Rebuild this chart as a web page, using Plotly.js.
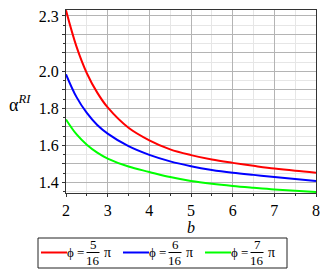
<!DOCTYPE html>
<html>
<head>
<meta charset="utf-8">
<script src="https://cdn.plot.ly/plotly-3.0.1.min.js"></script>
<style>html,body{margin:0;padding:0;background:#fff;}#chart{width:324px;height:275px;}</style>
</head>
<body>
<div id="chart"></div>
<script>
// ---- data ----
const b = [2, 2.25, 2.5, 2.75, 3, 3.5, 4, 4.5, 5, 5.5, 6, 6.5, 7, 7.5, 8];
const alphaPhi5 = [2.33, 2.135, 1.99, 1.885, 1.805, 1.695, 1.627, 1.578, 1.547, 1.523, 1.505, 1.489, 1.474, 1.462, 1.452];
const alphaPhi6 = [1.984, 1.862, 1.775, 1.71, 1.663, 1.595, 1.548, 1.513, 1.487, 1.467, 1.452, 1.44, 1.429, 1.418, 1.407];
const alphaPhi7 = [1.74, 1.66, 1.603, 1.56, 1.528, 1.485, 1.456, 1.428, 1.407, 1.392, 1.38, 1.37, 1.361, 1.354, 1.348];
const numerators = ["5", "6", "7"];
const denominator = "16";
const seriesColors = ["#ff0000", "#0000ff", "#00ff00"];
const yTickVals = [1.4, 1.6, 1.8, 2.0, 2.3];
const yTickText = ["1.4", "1.6", "1.8", "2.0", "2.3"];
const xTickVals = [2, 3, 4, 5, 6, 7, 8];
const yRange = [1.342, 2.332];

const series = [alphaPhi5, alphaPhi6, alphaPhi7];
const FONT = "Times New Roman, Liberation Serif, Tinos, DejaVu Serif, serif";

const traces = series.map((ys, i) => ({
  x: b, y: ys, type: "scatter", mode: "lines",
  line: {color: seriesColors[i], width: 2, shape: "spline", smoothing: 1.0},
  name: "ϕ = " + numerators[i] + "/" + denominator + " π",
  showlegend: false, hoverinfo: "skip"
}));
// empty trace so the label axis is drawn
traces.push({x: [], y: [], yaxis: "y2", type: "scatter", mode: "lines", showlegend: false, hoverinfo: "skip"});

// plot area in px
const L = 66, R = 316, T = 10, B = 193, W = 324, H = 275;
const px = v => (v - L) / (R - L);
const py = v => (B - v) / (B - T);

const shapes = [];
const annotations = [];
// y-axis label
annotations.push({xref: "paper", yref: "paper", x: px(20), y: py(103), text: "α<sup><i>RI</i></sup>",
  showarrow: false, font: {family: FONT, size: 18, color: "#000"}, xanchor: "center", yanchor: "middle"});

// custom legend
shapes.push({type: "rect", xref: "paper", yref: "paper", x0: px(38), x1: px(287), y0: py(238), y1: py(268),
  line: {color: "#222", width: 1}, fillcolor: "rgba(0,0,0,0)"});
const lineStarts = [41, 123, 205];
for (let i = 0; i < 3; i++) {
  const x0 = lineStarts[i];
  shapes.push({type: "line", xref: "paper", yref: "paper", x0: px(x0), x1: px(x0 + 26), y0: py(252.5), y1: py(252.5),
    line: {color: seriesColors[i], width: 2}});
  annotations.push({xref: "paper", yref: "paper", x: px(x0 + 44), y: py(253), text: "ϕ =", showarrow: false,
    font: {family: FONT, size: 13, color: "#000"}, xanchor: "right", yanchor: "middle", borderpad: 0});
  const fx = x0 + 52;
  annotations.push({xref: "paper", yref: "paper", x: px(fx), y: py(245), text: numerators[i], showarrow: false,
    font: {family: FONT, size: 13, color: "#000"}, xanchor: "center", yanchor: "middle", borderpad: 0});
  annotations.push({xref: "paper", yref: "paper", x: px(fx), y: py(260.5), text: denominator, showarrow: false,
    font: {family: FONT, size: 13, color: "#000"}, xanchor: "center", yanchor: "middle", borderpad: 0});
  shapes.push({type: "line", xref: "paper", yref: "paper", x0: px(fx - 6.5), x1: px(fx + 6.5), y0: py(252.5), y1: py(252.5),
    line: {color: "#000", width: 1}});
  annotations.push({xref: "paper", yref: "paper", x: px(fx + 10), y: py(253), text: "π", showarrow: false,
    font: {family: FONT, size: 14, color: "#000"}, xanchor: "left", yanchor: "middle", borderpad: 0});
}

const layout = {
  width: W, height: H,
  margin: {l: L, r: W - R, t: T, b: H - B, pad: 0},
  paper_bgcolor: "#fff", plot_bgcolor: "#fff",
  font: {family: FONT, size: 16, color: "#000"},
  xaxis: {
    range: [2, 8], tickvals: xTickVals, ticktext: xTickVals.map(String),
    showgrid: true, gridcolor: "#b4b4b4", gridwidth: 1,
    minor: {dtick: 0.5, tick0: 2, showgrid: true, gridcolor: "#e6e6e6", ticks: "outside", ticklen: 2, tickcolor: "#333"},
    ticks: "outside", ticklen: 3, tickcolor: "#333",
    showline: true, linecolor: "#333", linewidth: 1, mirror: true, zeroline: false,
    tickfont: {family: FONT, size: 16, color: "#000"},
    title: {text: "<i>b</i>", font: {family: FONT, size: 16, color: "#000"}, standoff: 2}
  },
  yaxis: {
    range: yRange, tick0: 1.4, dtick: 0.1, showticklabels: false,
    showgrid: true, gridcolor: "#b4b4b4", gridwidth: 1,
    minor: {dtick: 0.05, tick0: 1.35, showgrid: true, gridcolor: "#e6e6e6", ticks: "outside", ticklen: 2, tickcolor: "#333"},
    ticks: "outside", ticklen: 3, tickcolor: "#333",
    showline: true, linecolor: "#333", linewidth: 1, mirror: true, zeroline: false
  },
  yaxis2: {
    overlaying: "y", side: "left", range: yRange, tickvals: yTickVals, ticktext: yTickText,
    showgrid: false, zeroline: false, showline: false, ticks: "outside", ticklen: 3, tickcolor: "rgba(0,0,0,0)",
    tickfont: {family: FONT, size: 16, color: "#000"}
  },
  shapes: shapes, annotations: annotations, showlegend: false
};

Plotly.newPlot("chart", traces, layout, {displayModeBar: false, staticPlot: true});
</script>
</body>
</html>
